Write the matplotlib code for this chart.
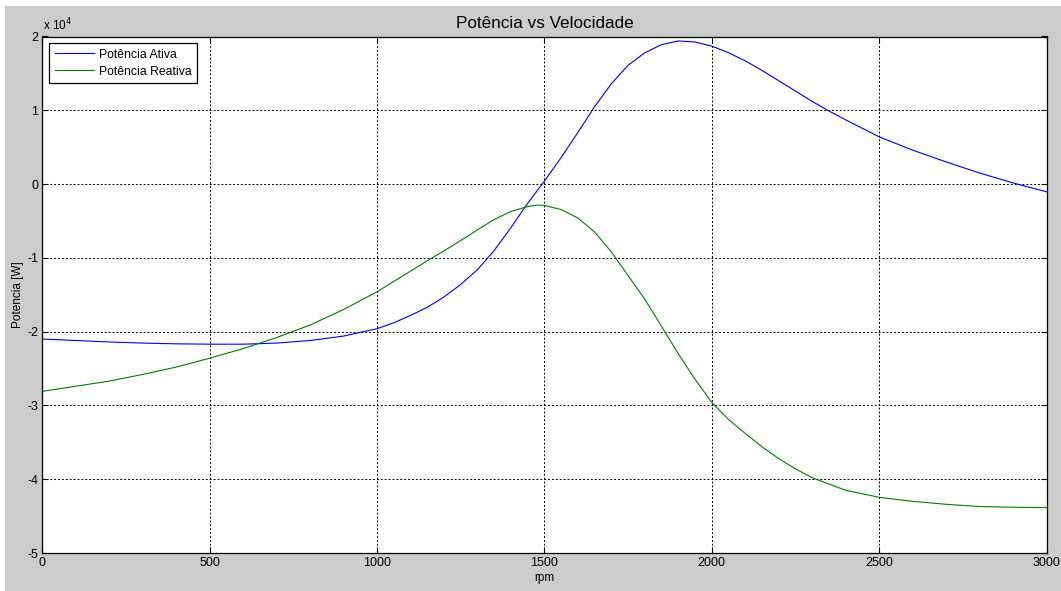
import matplotlib
matplotlib.use("Agg")
import matplotlib.pyplot as plt
from matplotlib.patches import Rectangle
from matplotlib.ticker import FuncFormatter

plt.rcParams['font.family'] = ['Liberation Sans', 'DejaVu Sans']
plt.rcParams['axes.unicode_minus'] = False

SCALE = 1e4
rpm_ativa = [0, 100, 200, 300, 400, 500, 600, 700, 800, 900, 1000, 1050, 1100, 1150,
             1200, 1250, 1300, 1350, 1400, 1450, 1500, 1550, 1600, 1650, 1700, 1750,
             1800, 1850, 1900, 1950, 2000, 2050, 2100, 2150, 2200, 2250, 2300, 2350,
             2400, 2500, 2600, 2700, 2800, 2900, 3000]
p_ativa = [-2.10, -2.12, -2.14, -2.155, -2.165, -2.17, -2.17, -2.155, -2.12, -2.06,
           -1.96, -1.88, -1.78, -1.67, -1.53, -1.36, -1.16, -0.90, -0.59, -0.26,
           0.04, 0.36, 0.70, 1.05, 1.36, 1.61, 1.78, 1.89, 1.94, 1.925, 1.87, 1.78,
           1.67, 1.54, 1.40, 1.26, 1.12, 0.99, 0.87, 0.64, 0.46, 0.30, 0.15, 0.015,
           -0.105]

rpm_reativa = [0, 100, 200, 300, 400, 500, 600, 700, 800, 900, 1000, 1050, 1100, 1150,
               1200, 1250, 1300, 1350, 1400, 1450, 1480, 1500, 1550, 1600, 1650, 1700,
               1750, 1800, 1850, 1900, 1950, 2000, 2050, 2100, 2150, 2200, 2250, 2300,
               2400, 2500, 2600, 2700, 2800, 2900, 3000]
p_reativa = [-2.81, -2.74, -2.67, -2.58, -2.48, -2.36, -2.23, -2.08, -1.91, -1.70,
             -1.46, -1.32, -1.18, -1.04, -0.905, -0.765, -0.62, -0.48, -0.37, -0.305,
             -0.285, -0.29, -0.345, -0.46, -0.65, -0.92, -1.24, -1.56, -1.93, -2.30,
             -2.645, -2.96, -3.19, -3.38, -3.56, -3.72, -3.86, -3.98, -4.15, -4.245,
             -4.30, -4.34, -4.37, -4.38, -4.385]

x_ticks = [0, 500, 1000, 1500, 2000, 2500, 3000]
y_ticks = [-5, -4, -3, -2, -1, 0, 1, 2]

W, H = 1061, 591
fig = plt.figure(figsize=(W / 100, H / 100), dpi=100, facecolor='white')
fig.patches.append(Rectangle((5 / W, 0), 1, 1 - 6 / H, transform=fig.transFigure,
                             facecolor='#cccccc', edgecolor='none', zorder=-10))

ax = fig.add_axes([42.3 / W, 1 - 553 / H, (1046.5 - 42.3) / W, (553 - 36.5) / H])
ax.set_facecolor('white')

ax.plot(rpm_ativa, [v * SCALE for v in p_ativa], color=(0, 0, 1), lw=0.8,
        label='Potência Ativa')
ax.plot(rpm_reativa, [v * SCALE for v in p_reativa], color=(0, 0.5, 0), lw=0.8,
        label='Potência Reativa')

ax.set_xlim(0, 3000)
ax.set_ylim(-5 * SCALE, 2 * SCALE)
ax.set_xticks(x_ticks)
ax.set_yticks([v * SCALE for v in y_ticks])
ax.yaxis.set_major_formatter(FuncFormatter(lambda v, p: f"{v / SCALE:g}"))
ax.tick_params(direction='in', length=4, width=0.8, top=True, right=True,
               labelsize=9, colors='black', pad=3)
ax.grid(True, color='black', linestyle=(0, (2, 2)), linewidth=0.7)
for s in ax.spines.values():
    s.set_linewidth(0.9)
    s.set_color('black')

ax.set_title('Potência vs Velocidade', fontsize=12.3, pad=6)
ax.set_xlabel('rpm', fontsize=8.5, labelpad=2)
ax.set_ylabel('Potencia [W]', fontsize=8.5, labelpad=2)

fig.text(43 / W, 1 - 25 / H, r'x 10$^{4}$', fontsize=8.5, ha='left', va='center')

leg = ax.legend(loc='upper left', fontsize=8.8, handlelength=3.2, frameon=True,
                fancybox=False, framealpha=1, edgecolor='black', borderpad=0.45,
                labelspacing=0.4, borderaxespad=0.55, handletextpad=0.4)
leg.get_frame().set_linewidth(0.9)

fig.savefig('out.png', dpi=100, facecolor=fig.get_facecolor())
